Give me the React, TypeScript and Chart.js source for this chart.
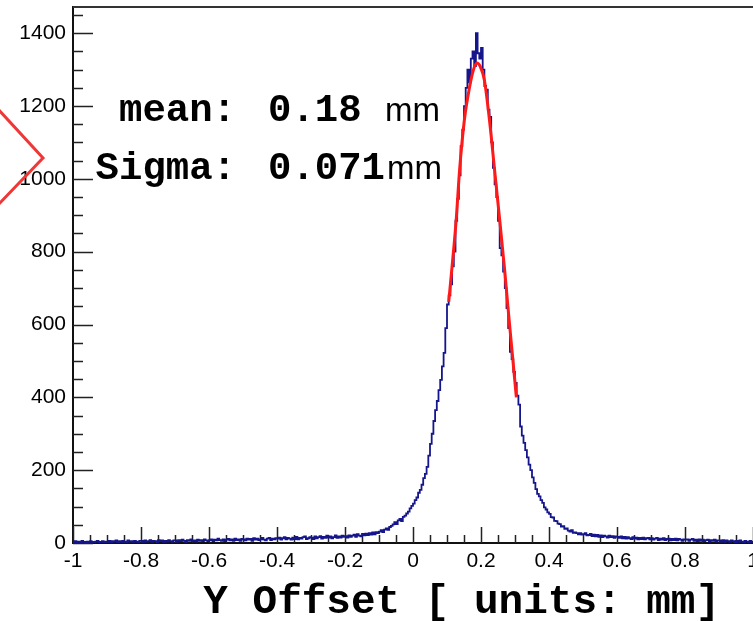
import React, { useEffect, useRef } from "react";
import { Chart, registerables } from "chart.js";

Chart.register(...registerables);

// ---- data ----
const X_MIN = -1;
const X_MAX = 1;
const BIN_WIDTH = 0.005;
const Y_MAX = 1472;

// histogram counts, 400 bins of 0.005 from -1 to 1
const binCounts = [
  2, 5, 1, 4, 2, 6, 3, 1, 4, 2, 5, 3, 1, 4, 6, 2, 3, 5, 2, 4,
  3, 6, 2, 5, 4, 7, 2, 5, 3, 6, 4, 2, 7, 4, 5, 3, 6, 4, 2, 6,
  6, 3, 7, 4, 5, 8, 3, 6, 5, 2, 8, 5, 7, 3, 6, 4, 8, 5, 3, 7,
  7, 4, 8, 5, 9, 6, 3, 8, 6, 10, 5, 7, 4, 9, 6, 8, 5, 10, 7, 5,
  8, 10, 5, 9, 7, 12, 8, 6, 10, 5, 9, 11, 7, 10, 6, 12, 8, 10, 6, 11,
  10, 7, 12, 9, 11, 6, 13, 9, 12, 8, 10, 14, 9, 7, 12, 14, 8, 12, 10, 13,
  12, 15, 9, 13, 16, 10, 14, 12, 9, 15, 11, 17, 10, 14, 12, 16, 18, 11, 13, 16,
  15, 11, 18, 13, 16, 19, 12, 17, 14, 20, 15, 18, 13, 16, 21, 14, 18, 15, 20, 17,
  19, 15, 21, 17, 20, 23, 17, 24, 20, 18, 25, 21, 26, 22, 27, 23, 29, 24, 30, 27,
  31, 35, 30, 37, 40, 36, 44, 47, 51, 57, 52, 62, 66, 60, 72, 75, 81, 86, 95, 102,
  108, 118, 125, 138, 146, 160, 178, 190, 209, 240, 272, 300, 335, 365, 390, 420, 448, 485, 522, 590,
  655, 680, 710, 760, 800, 885, 945, 1010, 1090, 1135, 1200, 1250, 1300, 1265, 1330, 1350, 1310, 1400, 1345, 1330,
  1360, 1300, 1255, 1245, 1190, 1170, 1100, 1030, 985, 950, 885, 810, 790, 745, 700, 645, 590, 525, 505, 470,
  440, 405, 380, 320, 295, 275, 255, 235, 215, 200, 180, 165, 148, 135, 128, 118, 110, 98, 92, 84,
  80, 71, 70, 61, 60, 53, 52, 45, 46, 39, 40, 34, 31, 35, 28, 29, 27, 24, 27, 23,
  24, 27, 21, 22, 25, 19, 23, 18, 22, 17, 21, 16, 20, 18, 15, 20, 16, 19, 14, 18,
  17, 14, 18, 13, 17, 12, 16, 13, 11, 16, 12, 15, 10, 14, 11, 15, 10, 13, 14, 10,
  13, 9, 12, 14, 8, 12, 9, 13, 8, 11, 12, 7, 11, 8, 12, 7, 11, 9, 6, 10,
  9, 10, 6, 9, 11, 6, 9, 5, 10, 6, 9, 5, 8, 9, 4, 8, 6, 9, 4, 7,
  7, 4, 8, 3, 7, 5, 3, 7, 5, 2, 6, 3, 7, 4, 2, 6, 4, 2, 6, 3,
];

// Gaussian fit curve
const fitX = [0.105, 0.115, 0.127, 0.137, 0.151, 0.166, 0.178, 0.188, 0.198, 0.21, 0.225, 0.24, 0.255, 0.27, 0.28, 0.292, 0.304];
const fitY = [662, 760, 887, 1024, 1161, 1250, 1300, 1318, 1308, 1271, 1161, 1024, 887, 745, 640, 520, 400];

const xTickValues = [-1, -0.8, -0.6, -0.4, -0.2, 0, 0.2, 0.4, 0.6, 0.8, 1];
const yTickValues = [0, 200, 400, 600, 800, 1000, 1200, 1400];

const meanLabel = "mean:";
const meanValue = "0.18";
const sigmaLabel = "Sigma:";
const sigmaValue = "0.071";
const unitText = "mm";
const xTitle = "Y Offset [ units: mm]";

const MONO = '"Liberation Mono", "Courier New", monospace';
const SANS = '"Liberation Sans", Arial, Helvetica, sans-serif';

const decorPlugin = {
  id: "decor",
  beforeDatasetsDraw(chart: any) {
    const { ctx, chartArea, scales } = chart;
    const { left, right, top, bottom } = chartArea;
    const x = scales.x;
    const y = scales.y;
    ctx.save();
    ctx.strokeStyle = "#222";
    ctx.lineWidth = 1.5;
    ctx.beginPath();
    for (let i = 0; i <= 40; i++) {
      const v = X_MIN + i * 0.05;
      const px = Math.round(x.getPixelForValue(v)) + 0.5;
      const len = i % 4 === 0 ? 16 : 8;
      ctx.moveTo(px, bottom);
      ctx.lineTo(px, bottom - len);
    }
    for (let i = 0; i * 50 <= Y_MAX; i++) {
      const py = Math.round(y.getPixelForValue(i * 50)) + 0.5;
      const len = i % 4 === 0 ? 20 : 10;
      ctx.moveTo(left, py);
      ctx.lineTo(left + len, py);
    }
    ctx.stroke();
    // top frame line
    ctx.strokeStyle = "#333";
    ctx.lineWidth = 2;
    ctx.beginPath();
    ctx.moveTo(left, top);
    ctx.lineTo(right + 2, top);
    ctx.stroke();
    ctx.restore();
  },
  afterDraw(chart: any) {
    const { ctx } = chart;
    ctx.save();
    ctx.fillStyle = "#000";
    ctx.textBaseline = "alphabetic";
    // annotation text
    ctx.font = `bold 39px ${MONO}`;
    ctx.textAlign = "right";
    ctx.fillText(meanLabel, 236, 121);
    ctx.fillText(sigmaLabel, 236, 179);
    ctx.textAlign = "left";
    ctx.fillText(meanValue, 268, 121);
    ctx.fillText(sigmaValue, 268, 179);
    ctx.font = `33px ${SANS}`;
    ctx.fillText(unitText, 385, 121);
    ctx.fillText(unitText, 387, 179);
    // axis title
    ctx.font = `bold 41px ${MONO}`;
    ctx.textAlign = "right";
    ctx.fillText(xTitle, 720, 613);
    // red chevron at left
    ctx.strokeStyle = "rgb(240,55,55)";
    ctx.lineWidth = 3;
    ctx.lineJoin = "miter";
    ctx.beginPath();
    ctx.moveTo(-3, 108);
    ctx.lineTo(43, 158);
    ctx.lineTo(-3, 206);
    ctx.stroke();
    ctx.restore();
  },
};

export default function App() {
  const ref = useRef<HTMLCanvasElement | null>(null);

  useEffect(() => {
    if (!ref.current) return;
    const histPoints = binCounts.map((c, i) => ({ x: X_MIN + i * BIN_WIDTH, y: c }));
    histPoints.push({ x: X_MAX, y: binCounts[binCounts.length - 1] });
    const fitPoints = fitX.map((v, i) => ({ x: v, y: fitY[i] }));

    const chart = new Chart(ref.current, {
      type: "line",
      data: {
        datasets: [
          {
            data: histPoints,
            borderColor: "#16168c",
            borderWidth: 1.8,
            pointRadius: 0,
            stepped: true,
            fill: false,
            order: 2,
          },
          {
            data: fitPoints,
            borderColor: "#ff1a1a",
            borderWidth: 3,
            pointRadius: 0,
            cubicInterpolationMode: "monotone",
            fill: false,
            order: 1,
          },
        ],
      },
      options: {
        responsive: false,
        animation: false,
        events: [],
        layout: { padding: { top: 7, left: 0, right: 0, bottom: 0 } },
        plugins: {
          legend: { display: false },
          tooltip: { enabled: false },
          title: { display: false },
        },
        scales: {
          x: {
            type: "linear",
            min: X_MIN,
            max: X_MAX,
            grid: { display: false, drawTicks: false, tickLength: 0 },
            border: { display: true, color: "#111", width: 2 },
            ticks: {
              color: "#000",
              font: { family: SANS, size: 21 },
              padding: 6,
              maxRotation: 0,
              autoSkip: false,
              callback: (v: any) => String(Number(Number(v).toFixed(1))),
            },
            afterBuildTicks: (s: any) => {
              s.ticks = xTickValues.map((v) => ({ value: v }));
            },
            afterFit: (s: any) => {
              s.height = 78;
              s.paddingLeft = 0;
              s.paddingRight = 0;
            },
          },
          y: {
            type: "linear",
            min: 0,
            max: Y_MAX,
            grid: { display: false, drawTicks: false, tickLength: 0 },
            border: { display: true, color: "#111", width: 2 },
            ticks: {
              color: "#000",
              font: { family: SANS, size: 21 },
              padding: 7,
              autoSkip: false,
              callback: (v: any) => String(v),
            },
            afterBuildTicks: (s: any) => {
              s.ticks = yTickValues.map((v) => ({ value: v }));
            },
            afterFit: (s: any) => {
              s.width = 73;
              s.paddingTop = 0;
              s.paddingBottom = 0;
            },
          },
        },
      },
      plugins: [decorPlugin],
    });
    return () => chart.destroy();
  }, []);

  return (
    <div style={{ position: "absolute", left: 0, top: 0, width: 753, height: 621, background: "#fff", overflow: "hidden" }}>
      <canvas ref={ref} width={753} height={621} style={{ display: "block" }} />
    </div>
  );
}
